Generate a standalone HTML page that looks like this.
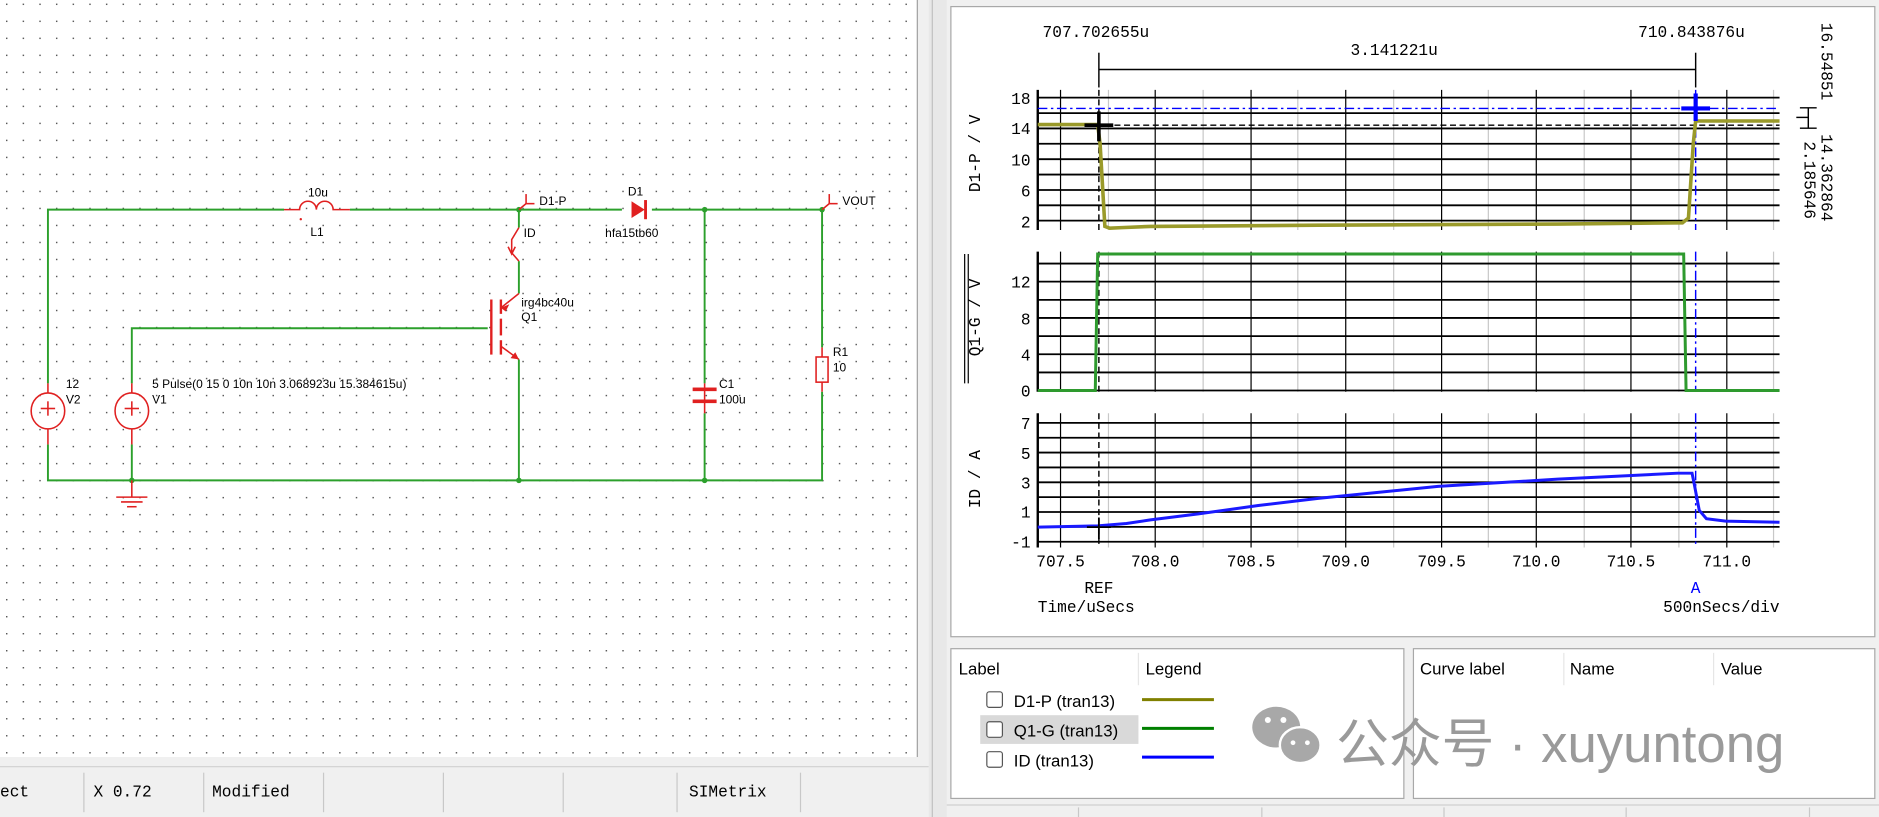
<!DOCTYPE html>
<html><head><meta charset="utf-8"><style>
html,body{margin:0;padding:0;background:#f0f0f0}
svg{display:block}
.m{font-family:"Liberation Mono",monospace;font-size:13.5px;fill:#000}
.s{font-family:"Liberation Sans",sans-serif;font-size:10px;fill:#000}
.u{font-family:"Liberation Sans",sans-serif;font-size:14px;fill:#000}
</style></head><body>
<svg width="1879" height="817" viewBox="0 0 1568 682" preserveAspectRatio="none" xmlns="http://www.w3.org/2000/svg">
<defs>
<pattern id="dots" x="5" y="3" width="13.9" height="14.2" patternUnits="userSpaceOnUse"><rect x="0" y="0" width="1.2" height="1.2" fill="#555"/></pattern>
<g id="vg">
<g stroke="#c8c8c8" stroke-width="1.2" vector-effect="non-scaling-stroke"><line x1="925" y1="0" x2="925" y2="1" vector-effect="non-scaling-stroke"/><line x1="1004" y1="0" x2="1004" y2="1" vector-effect="non-scaling-stroke"/><line x1="1083" y1="0" x2="1083" y2="1" vector-effect="non-scaling-stroke"/><line x1="1163" y1="0" x2="1163" y2="1" vector-effect="non-scaling-stroke"/><line x1="1242" y1="0" x2="1242" y2="1" vector-effect="non-scaling-stroke"/><line x1="1322" y1="0" x2="1322" y2="1" vector-effect="non-scaling-stroke"/><line x1="1401" y1="0" x2="1401" y2="1" vector-effect="non-scaling-stroke"/><line x1="1480" y1="0" x2="1480" y2="1" vector-effect="non-scaling-stroke"/></g>
<g stroke="#000" stroke-width="1.2"><line x1="885" y1="0" x2="885" y2="1" vector-effect="non-scaling-stroke"/><line x1="964" y1="0" x2="964" y2="1" vector-effect="non-scaling-stroke"/><line x1="1044" y1="0" x2="1044" y2="1" vector-effect="non-scaling-stroke"/><line x1="1123" y1="0" x2="1123" y2="1" vector-effect="non-scaling-stroke"/><line x1="1203" y1="0" x2="1203" y2="1" vector-effect="non-scaling-stroke"/><line x1="1282" y1="0" x2="1282" y2="1" vector-effect="non-scaling-stroke"/><line x1="1361" y1="0" x2="1361" y2="1" vector-effect="non-scaling-stroke"/><line x1="1441" y1="0" x2="1441" y2="1" vector-effect="non-scaling-stroke"/></g>
</g>
</defs>
<!-- schematic -->
<rect x="0" y="0" width="765" height="632" fill="#fff"/>
<rect x="0" y="0" width="765" height="632" fill="url(#dots)"/>
<line x1="765.5" y1="0" x2="765.5" y2="632" stroke="#a0a0a0"/>
<rect x="0" y="632" width="775" height="50" fill="#f0f0f0"/>
<line x1="0" y1="640" x2="775" y2="640" stroke="#d0d0d0"/>
<g stroke="#c8c8c8"><line x1="70" y1="645" x2="70" y2="678"/><line x1="170" y1="645" x2="170" y2="678"/><line x1="270" y1="645" x2="270" y2="678"/><line x1="370" y1="645" x2="370" y2="678"/><line x1="470" y1="645" x2="470" y2="678"/><line x1="565" y1="645" x2="565" y2="678"/><line x1="668" y1="645" x2="668" y2="678"/></g>
<g class="m" font-size="12"><text x="0" y="665">ect</text><text x="78" y="665">X 0.72</text><text x="177" y="665">Modified</text><text x="575" y="665">SIMetrix</text></g>
<rect x="775" y="0" width="15" height="682" fill="#e8e8e8"/>
<line x1="778" y1="0" x2="778" y2="682" stroke="#c0c0c0"/>

<!-- wires -->
<g stroke="#2ca02c" stroke-width="1.6" fill="none">
<polyline points="40,320 40,175 237,175"/>
<line x1="292" y1="175" x2="519" y2="175"/>
<line x1="544" y1="175" x2="686" y2="175"/>
<polyline points="40,371 40,401 686,401 686,327"/>
<line x1="686" y1="175" x2="686" y2="290"/>
<polyline points="110,320 110,274 407,274"/>
<line x1="110" y1="371" x2="110" y2="401"/>
<line x1="433" y1="175" x2="433" y2="190"/>
<line x1="433" y1="218" x2="433" y2="245"/>
<line x1="433" y1="300" x2="433" y2="401"/>
<line x1="588" y1="175" x2="588" y2="320"/>
<line x1="588" y1="345" x2="588" y2="401"/>
</g>
<g fill="#2ca02c"><circle cx="433" cy="175" r="2.3"/><circle cx="588" cy="175" r="2.3"/><circle cx="686" cy="175" r="2.3"/><circle cx="110" cy="401" r="2.3"/><circle cx="433" cy="401" r="2.3"/><circle cx="588" cy="401" r="2.3"/></g>
<!-- red parts -->
<g stroke="#e02020" stroke-width="1.3" fill="none">
<path d="M237,175 H250 a7,7 0 0 1 14,0 a7,7 0 0 1 14,0 H292" />
<line x1="40" y1="320" x2="40" y2="328"/><ellipse cx="40" cy="343" rx="14" ry="15"/><line x1="40" y1="358" x2="40" y2="371"/>
<line x1="34" y1="341" x2="46" y2="341"/><line x1="40" y1="335" x2="40" y2="347"/>
<line x1="110" y1="320" x2="110" y2="328"/><ellipse cx="110" cy="343" rx="14" ry="15"/><line x1="110" y1="358" x2="110" y2="371"/>
<line x1="104" y1="341" x2="116" y2="341"/><line x1="110" y1="335" x2="110" y2="347"/>
<line x1="110" y1="401" x2="110" y2="415"/><line x1="97" y1="415" x2="123" y2="415"/><line x1="101" y1="419" x2="119" y2="419"/><line x1="106" y1="423" x2="114" y2="423"/>
<line x1="588" y1="320" x2="588" y2="345"/>
<line x1="686" y1="290" x2="686" y2="298"/><rect x="681" y="298" width="10" height="21"/><line x1="686" y1="319" x2="686" y2="327"/>
<polyline points="433,190 427,200 427,211 433,218"/><polyline points="424,206 427,212 430,206"/>
<polyline points="439,170 439,162"/><line x1="439" y1="170" x2="446" y2="170"/><line x1="433" y1="175" x2="439" y2="170"/>
<polyline points="692,170 692,162"/><line x1="692" y1="170" x2="699" y2="170"/><line x1="686" y1="175" x2="692" y2="170"/>
<line x1="410" y1="250" x2="410" y2="296" stroke-width="2"/>
<line x1="418" y1="250" x2="418" y2="262" stroke-width="2"/><line x1="418" y1="266" x2="418" y2="280" stroke-width="2"/><line x1="418" y1="284" x2="418" y2="296" stroke-width="2"/>
<line x1="418" y1="257" x2="433" y2="245"/><line x1="418" y1="289" x2="433" y2="300"/>
</g>
<polygon points="433,300 426,299 430,294" fill="#e02020"/>
<polygon points="418,257 425,254 422,260" fill="#e02020"/>
<polygon points="527,168 527,182 538,175" fill="#e02020"/>
<rect x="537.5" y="167" width="2.4" height="16" fill="#e02020"/>
<rect x="578" y="323.5" width="20" height="3" fill="#e02020"/>
<rect x="578" y="333.5" width="20" height="3" fill="#e02020"/>
<circle cx="251" cy="183" r="1" fill="#e02020"/>
<g class="s">
<text x="257" y="164">10u</text><text x="259" y="197">L1</text>
<text x="450" y="171">D1-P</text><text x="524" y="163">D1</text><text x="505" y="198">hfa15tb60</text>
<text x="703" y="171">VOUT</text><text x="437" y="198">ID</text>
<text x="435" y="256">irg4bc40u</text><text x="435" y="268">Q1</text>
<text x="55" y="324">12</text><text x="55" y="337">V2</text>
<text x="127" y="324">5 Pulse(0 15 0 10n 10n 3.068923u 15.384615u)</text><text x="127" y="337">V1</text>
<text x="600" y="324">C1</text><text x="600" y="337">100u</text>
<text x="695" y="297">R1</text><text x="695" y="310">10</text>
</g>

<!-- graph panel -->
<rect x="793.5" y="5.5" width="771" height="526" fill="#fff" stroke="#a8a8a8"/>
<g class="m">
<text x="870" y="31">707.702655u</text><text x="1367" y="31">710.843876u</text>
<text x="1127" y="46">3.141221u</text>
</g>
<g stroke="#000" stroke-width="1.2"><line x1="917" y1="58" x2="1415" y2="58"/><line x1="917" y1="44" x2="917" y2="73"/><line x1="1415" y1="44" x2="1415" y2="73"/></g>
<g class="m" font-size="13"><text transform="translate(1520,19) rotate(90)">16.54851</text><text transform="translate(1520,112) rotate(90)">14.362864</text><text transform="translate(1506,118) rotate(90)">2.185646</text></g>
<g stroke="#000" stroke-width="1.2"><line x1="1509" y1="90" x2="1509" y2="107"/><line x1="1499" y1="98" x2="1509" y2="98"/><line x1="1502" y1="90" x2="1516" y2="90"/><line x1="1502" y1="107" x2="1516" y2="107"/></g>

<!-- grids -->
<use href="#vg" transform="translate(0,75) scale(1,117)"/>
<use href="#vg" transform="translate(0,210) scale(1,117)"/>
<use href="#vg" transform="translate(0,345) scale(1,112)"/>
<!-- horizontal lines -->
<g stroke="#000" stroke-width="1.5">
<line x1="866" y1="81.5" x2="1485" y2="81.5"/><line x1="866" y1="94.4" x2="1485" y2="94.4"/><line x1="866" y1="107.2" x2="1485" y2="107.2"/><line x1="866" y1="120" x2="1485" y2="120"/><line x1="866" y1="132.9" x2="1485" y2="132.9"/><line x1="866" y1="145.7" x2="1485" y2="145.7"/><line x1="866" y1="158.6" x2="1485" y2="158.6"/><line x1="866" y1="171.4" x2="1485" y2="171.4"/><line x1="866" y1="184.2" x2="1485" y2="184.2"/>
<line x1="866" y1="220" x2="1485" y2="220"/><line x1="866" y1="235.1" x2="1485" y2="235.1"/><line x1="866" y1="250.3" x2="1485" y2="250.3"/><line x1="866" y1="265.4" x2="1485" y2="265.4"/><line x1="866" y1="280.6" x2="1485" y2="280.6"/><line x1="866" y1="295.7" x2="1485" y2="295.7"/><line x1="866" y1="310.9" x2="1485" y2="310.9"/><line x1="866" y1="326" x2="1485" y2="326"/>
<line x1="866" y1="353" x2="1485" y2="353"/><line x1="866" y1="365.4" x2="1485" y2="365.4"/><line x1="866" y1="377.8" x2="1485" y2="377.8"/><line x1="866" y1="390.2" x2="1485" y2="390.2"/><line x1="866" y1="402.6" x2="1485" y2="402.6"/><line x1="866" y1="415" x2="1485" y2="415"/><line x1="866" y1="427.4" x2="1485" y2="427.4"/><line x1="866" y1="439.8" x2="1485" y2="439.8"/><line x1="866" y1="452.2" x2="1485" y2="452.2"/>
</g>
<g stroke="#000" stroke-width="2"><line x1="866" y1="75" x2="866" y2="192"/><line x1="866" y1="210" x2="866" y2="327"/><line x1="866" y1="345" x2="866" y2="457"/></g>
<!-- y labels -->
<g class="m" text-anchor="end">
<text x="860" y="87">18</text><text x="860" y="112">14</text><text x="860" y="138">10</text><text x="860" y="164">6</text><text x="860" y="190">2</text>
<text x="860" y="240">12</text><text x="860" y="271">8</text><text x="860" y="301">4</text><text x="860" y="331">0</text>
<text x="860" y="358">7</text><text x="860" y="383">5</text><text x="860" y="408">3</text><text x="860" y="432">1</text><text x="860" y="457">-1</text>
</g>
<g class="m" text-anchor="middle">
<text transform="translate(818,128) rotate(-90)">D1-P / V</text>
<text transform="translate(818,265) rotate(-90)">Q1-G / V</text>
<text transform="translate(818,400) rotate(-90)">ID / A</text>
</g>
<g stroke="#000"><line x1="805" y1="212" x2="805" y2="320"/><line x1="808" y1="212" x2="808" y2="320"/></g>
<g class="m" text-anchor="middle">
<text x="885" y="473">707.5</text><text x="964" y="473">708.0</text><text x="1044" y="473">708.5</text><text x="1123" y="473">709.0</text><text x="1203" y="473">709.5</text><text x="1282" y="473">710.0</text><text x="1361" y="473">710.5</text><text x="1441" y="473">711.0</text>
<text x="917" y="495">REF</text><text x="1415" y="495" fill="#0000ff">A</text>
</g>
<text class="m" x="866" y="511">Time/uSecs</text>
<text class="m" x="1485" y="511" text-anchor="end">500nSecs/div</text>
<!-- cursors -->
<g stroke="#000" stroke-dasharray="5,3" stroke-width="1.2"><line x1="917" y1="75" x2="917" y2="192"/><line x1="917" y1="210" x2="917" y2="327"/><line x1="917" y1="345" x2="917" y2="457"/><line x1="866" y1="104.5" x2="1485" y2="104.5"/></g>
<g stroke="#0000ff" stroke-dasharray="8,3,2,3" stroke-width="1.2"><line x1="1415" y1="75" x2="1415" y2="192"/><line x1="1415" y1="210" x2="1415" y2="327"/><line x1="1415" y1="345" x2="1415" y2="457"/><line x1="866" y1="90.5" x2="1485" y2="90.5"/></g>
<!-- curves -->
<polyline fill="none" stroke="#9a9a2a" stroke-width="3" points="866,104 916,104 918,120 922,189 926,190.5 936,190 960,189 1100,188 1300,187 1404,186 1409,182 1413,120 1415,101 1420,101 1485,101"/>
<polyline fill="none" stroke="#2e9a2e" stroke-width="2.5" points="866,326 914,326 916,212 1405,212 1407,326 1485,326"/>
<polyline fill="none" stroke="#1a1aff" stroke-width="2.5" points="866,440 916,439 940,437 960,434 1000,429 1050,422 1100,416 1200,406 1300,400 1400,395 1412,395 1414,405 1418,426 1424,433 1440,435 1485,436"/>
<g stroke="#000" stroke-width="3"><line x1="905" y1="104.5" x2="929" y2="104.5"/><line x1="917" y1="93" x2="917" y2="118"/></g>
<g stroke="#0000ff" stroke-width="3.5"><line x1="1403" y1="90.5" x2="1427" y2="90.5"/><line x1="1415" y1="78" x2="1415" y2="101"/></g>
<g stroke="#000" stroke-width="1.5"><line x1="907" y1="440" x2="927" y2="440"/><line x1="917" y1="432" x2="917" y2="450"/></g>

<!-- legend -->
<rect x="793.5" y="541.5" width="378" height="125" fill="#fff" stroke="#a8a8a8"/>
<rect x="1179.5" y="541.5" width="385" height="125" fill="#fff" stroke="#a8a8a8"/>
<g stroke="#e6e6e6"><line x1="950" y1="545" x2="950" y2="572"/><line x1="1305" y1="545" x2="1305" y2="572"/><line x1="1430" y1="545" x2="1430" y2="572"/></g>
<g class="u"><text x="800" y="563">Label</text><text x="956" y="563">Legend</text><text x="1185" y="563">Curve label</text><text x="1310" y="563">Name</text><text x="1436" y="563">Value</text></g>
<rect x="818" y="597" width="132" height="24" fill="#d9d9d9"/>
<g fill="#fff" stroke="#555"><rect x="823.5" y="577.5" width="13" height="13" rx="2"/><rect x="823.5" y="602.5" width="13" height="13" rx="2"/><rect x="823.5" y="627.5" width="13" height="13" rx="2"/></g>
<g class="u"><text x="846" y="590">D1-P (tran13)</text><text x="846" y="615">Q1-G (tran13)</text><text x="846" y="640">ID (tran13)</text></g>
<g stroke-width="2.5"><line x1="953" y1="584" x2="1013" y2="584" stroke="#808000"/><line x1="953" y1="608" x2="1013" y2="608" stroke="#008000"/><line x1="953" y1="632" x2="1013" y2="632" stroke="#0000ff"/></g>
<!-- watermark -->
<g fill="#999" opacity="0.85">
<ellipse cx="1065" cy="607" rx="20" ry="17"/><ellipse cx="1085" cy="622" rx="17" ry="15" stroke="#fff" stroke-width="2"/>
</g>
<g fill="#fff"><circle cx="1058" cy="601" r="2.5"/><circle cx="1071" cy="601" r="2.5"/><circle cx="1079" cy="620" r="2"/><circle cx="1091" cy="620" r="2"/></g>
<text x="1115" y="636" font-family="'Liberation Sans','Noto Sans CJK SC',sans-serif" font-size="44" fill="#9a9a9a">公众号 · xuyuntong</text>
<!-- bottom status -->
<line x1="790" y1="672" x2="1568" y2="672" stroke="#d0d0d0"/>
<g stroke="#c8c8c8"><line x1="900" y1="674" x2="900" y2="682"/><line x1="1053" y1="674" x2="1053" y2="682"/><line x1="1205" y1="674" x2="1205" y2="682"/><line x1="1357" y1="674" x2="1357" y2="682"/><line x1="1510" y1="674" x2="1510" y2="682"/></g>
</svg>
</body></html>
